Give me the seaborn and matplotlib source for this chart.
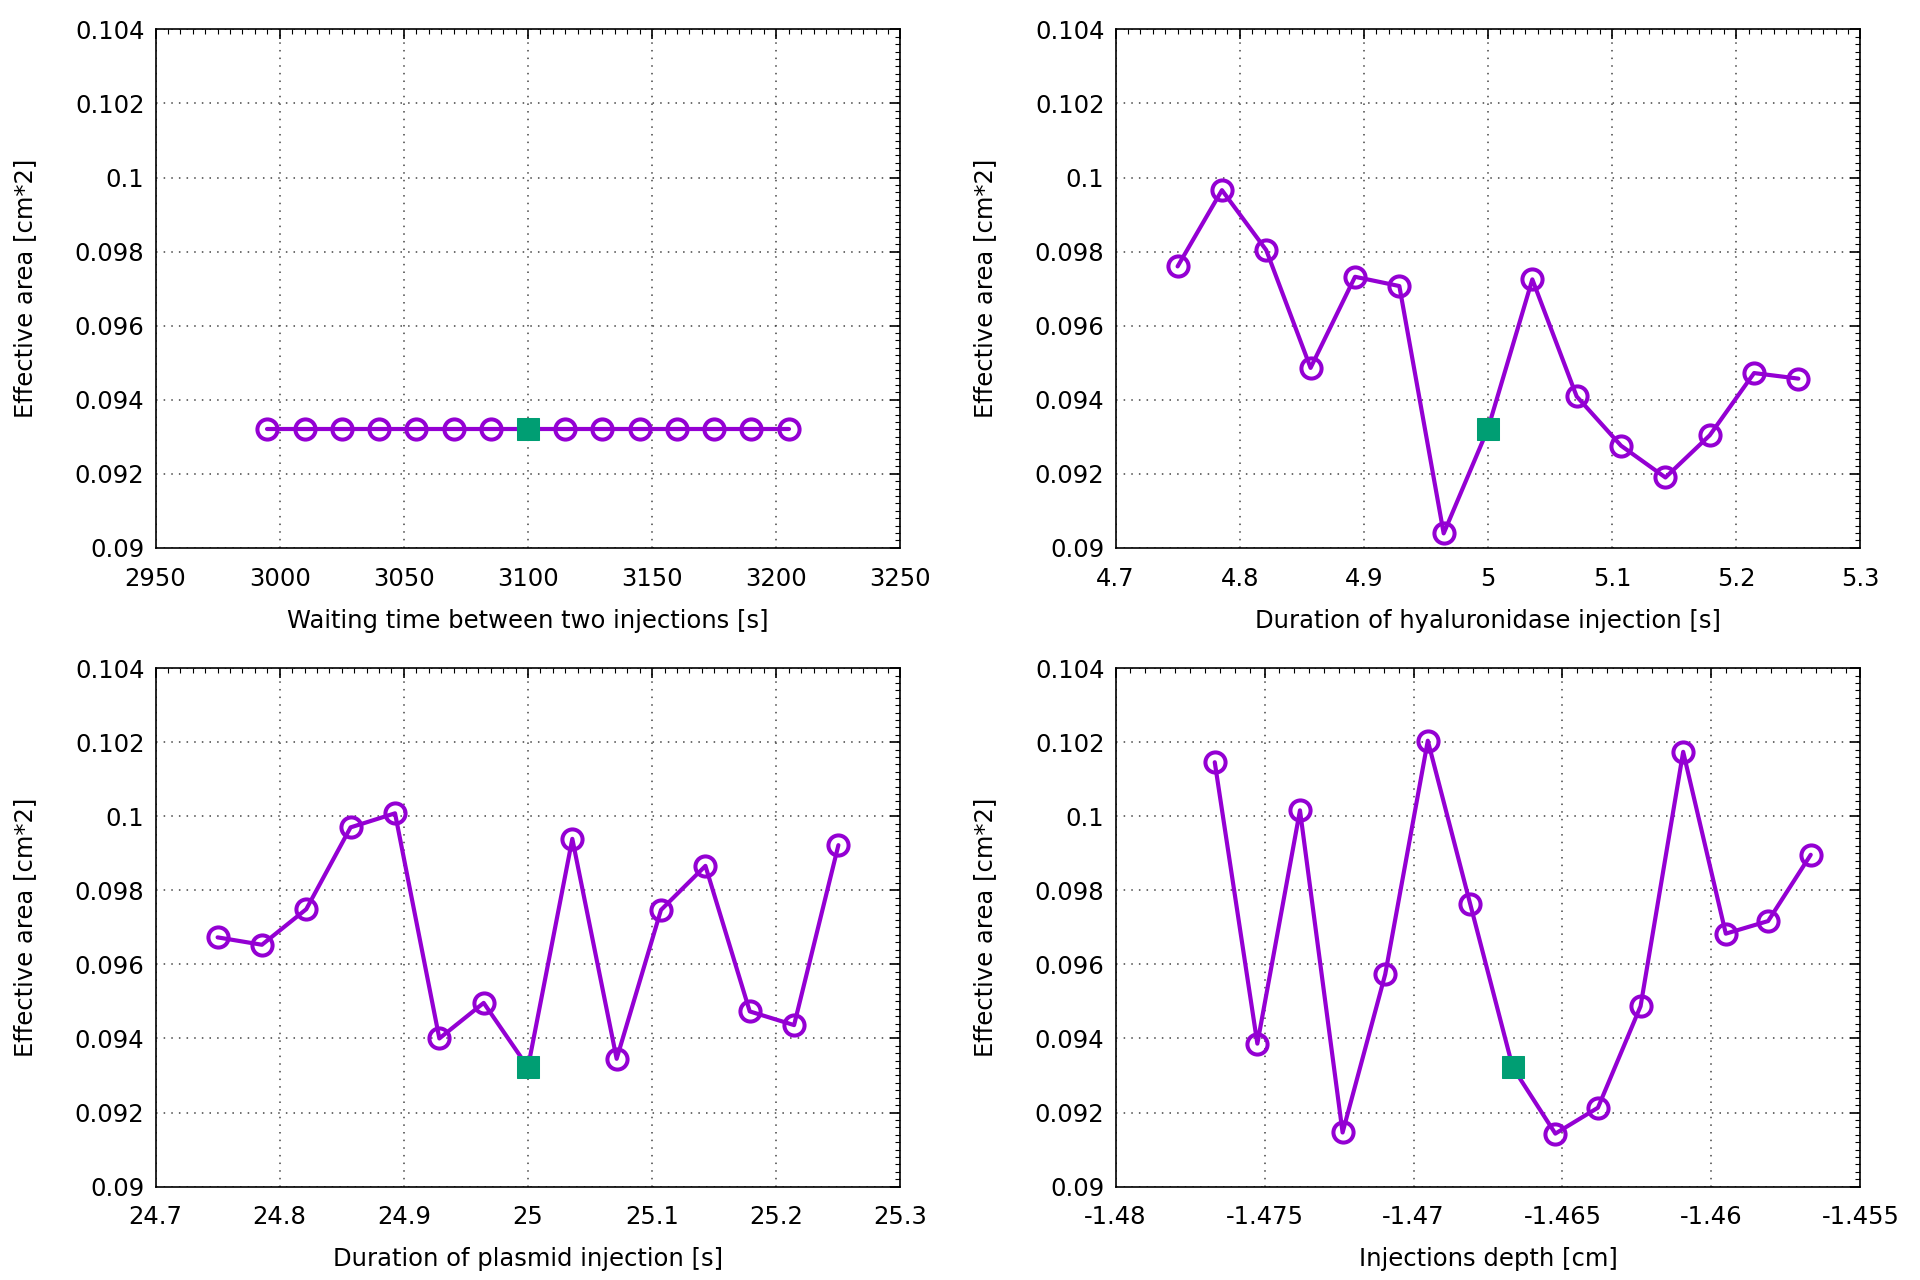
import numpy as np
import pandas as pd
import matplotlib
matplotlib.use('Agg')
import matplotlib.pyplot as plt
import seaborn as sns
from matplotlib.ticker import MultipleLocator, AutoMinorLocator, FuncFormatter

# data (center point = square marker)
wait_x = [2995, 3010, 3025, 3040, 3055, 3070, 3085, 3100, 3115, 3130, 3145, 3160, 3175, 3190, 3205]
wait_y = [0.09322] * 15

hyal_x = [4.75, 4.7857, 4.8214, 4.8571, 4.8929, 4.9286, 4.9643, 5.0,
          5.0357, 5.0714, 5.1071, 5.1429, 5.1786, 5.2143, 5.25]
hyal_y = [0.09760, 0.09966, 0.09804, 0.09486, 0.09732, 0.09707, 0.09039, 0.09322,
          0.09725, 0.09409, 0.09276, 0.09190, 0.09304, 0.09472, 0.09457]

plas_x = [24.75, 24.7857, 24.8214, 24.8571, 24.8929, 24.9286, 24.9643, 25.0,
          25.0357, 25.0714, 25.1071, 25.1429, 25.1786, 25.2143, 25.25]
plas_y = [0.09673, 0.09653, 0.09749, 0.09970, 0.10008, 0.09400, 0.09496, 0.09322,
          0.09939, 0.09345, 0.09747, 0.09866, 0.09473, 0.09436, 0.09922]

depth_x = [-1.47667, -1.47524, -1.47381, -1.47238, -1.47095, -1.46952, -1.46810, -1.46667,
           -1.46524, -1.46381, -1.46238, -1.46095, -1.45952, -1.45810, -1.45667]
depth_y = [0.10146, 0.09386, 0.10016, 0.09146, 0.09573, 0.10204, 0.09764, 0.09322,
           0.09143, 0.09213, 0.09487, 0.10174, 0.09683, 0.09717, 0.09896]

panels = [
    (wait_x, wait_y, 'Waiting time between two injections [s]', (2950, 3250), 50, [0.081, 0.572, 0.388, 0.405]),
    (hyal_x, hyal_y, 'Duration of hyaluronidase injection [s]', (4.7, 5.3), 0.1, [0.581, 0.572, 0.388, 0.405]),
    (plas_x, plas_y, 'Duration of plasmid injection [s]', (24.7, 25.3), 0.1, [0.081, 0.073, 0.388, 0.405]),
    (depth_x, depth_y, 'Injections depth [cm]', (-1.48, -1.455), 0.005, [0.581, 0.073, 0.388, 0.405]),
]

purple = '#9400D3'
green = '#009E73'

sns.set_style('white')
plt.rcParams['font.family'] = ['DejaVu Sans']
plt.rcParams['axes.unicode_minus'] = False
plt.rcParams['text.color'] = 'black'
plt.rcParams['axes.labelcolor'] = 'black'
plt.rcParams['xtick.color'] = 'black'
plt.rcParams['ytick.color'] = 'black'

fig = plt.figure(figsize=(19.2, 12.8), dpi=100)
fmt = FuncFormatter(lambda v, p: f'{v:.6g}')

for xs, ys, xlabel, xlim, xstep, pos in panels:
    ax = fig.add_axes(pos)
    df = pd.DataFrame({'x': xs, 'y': ys})
    mid = len(df) // 2
    sns.lineplot(x='x', y='y', data=df, ax=ax, sort=False, color=purple, lw=3.0, zorder=3)
    others = df.drop(index=mid)
    sns.lineplot(x='x', y='y', data=others, ax=ax, sort=False, lw=0, marker='o', markersize=14.5,
                 markerfacecolor='none', markeredgecolor=purple, markeredgewidth=2.9, zorder=4)
    sns.lineplot(x='x', y='y', data=df.iloc[[mid]], ax=ax, lw=0, marker='s', markersize=15.5,
                 markerfacecolor=green, markeredgecolor=green, zorder=5)

    ax.set_xlim(*xlim)
    ax.set_ylim(0.09, 0.104)
    ax.xaxis.set_major_locator(MultipleLocator(xstep))
    ax.yaxis.set_major_locator(MultipleLocator(0.002))
    ax.xaxis.set_minor_locator(AutoMinorLocator(10))
    ax.yaxis.set_minor_locator(AutoMinorLocator(10))
    ax.xaxis.set_major_formatter(fmt)
    ax.yaxis.set_major_formatter(fmt)
    ax.tick_params(which='both', direction='in', top=True, right=True, labelsize=17.5)
    ax.tick_params(which='major', length=7, width=1.2)
    ax.tick_params(which='minor', length=3.5, width=0.8)
    ax.tick_params(axis='x', which='major', pad=13.5)
    ax.tick_params(axis='y', which='major', pad=8)
    ax.grid(True, which='major', color='#444444', linestyle=(0, (1, 4)), lw=1.1)
    for s in ax.spines.values():
        s.set_color('black')
        s.set_linewidth(1.2)
    ax.set_xlabel(xlabel, fontsize=17.5, labelpad=13)
    ax.set_ylabel('Effective area [cm*2]', fontsize=17.5, labelpad=27)

fig.savefig('out.png', dpi=100)
